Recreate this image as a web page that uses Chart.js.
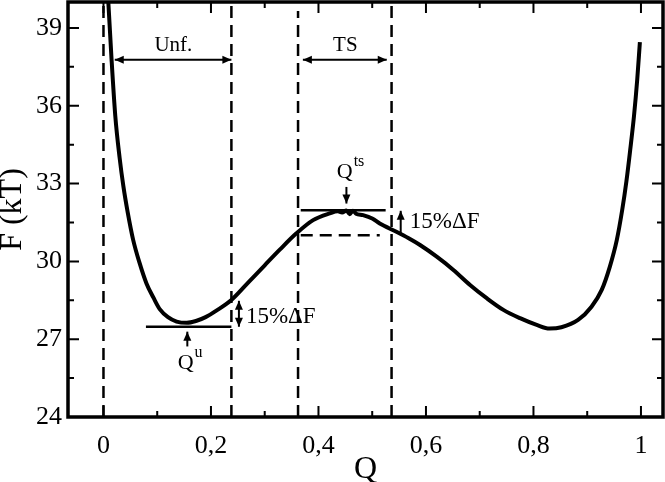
<!DOCTYPE html>
<html>
<head>
<meta charset="utf-8">
<script src="https://cdn.jsdelivr.net/npm/chart.js@4.4.0/dist/chart.umd.min.js"></script>
<style>
  html, body { margin: 0; padding: 0; background: #fff; }
  #wrap { width: 665px; height: 482px; }
</style>
</head>
<body>
<div id="wrap"><canvas id="chart"></canvas></div>
<script>
// ---- Data ----
const qVals = [0.006, 0.009, 0.015, 0.022, 0.030, 0.037, 0.045, 0.055, 0.067, 0.080, 0.093, 0.105, 0.120, 0.136,
  0.155, 0.172, 0.190, 0.210, 0.238, 0.270, 0.300, 0.328, 0.359, 0.390, 0.421, 0.436, 0.444, 0.452, 0.458,
  0.464, 0.470, 0.483, 0.500, 0.514, 0.545, 0.567, 0.589, 0.620, 0.651, 0.682, 0.713, 0.744, 0.775, 0.806,
  0.830, 0.852, 0.883, 0.908, 0.927, 0.942, 0.955, 0.965, 0.973, 0.980, 0.987, 0.993, 0.998];
const fVals = [41.2, 40.0, 37.8, 35.6, 34.0, 32.9, 31.9, 30.85, 29.95, 29.15, 28.6, 28.15, 27.85, 27.68,
  27.63, 27.7, 27.85, 28.1, 28.51, 29.2, 29.85, 30.45, 31.08, 31.59, 31.85, 31.93, 31.88, 31.96, 31.82,
  31.95, 31.84, 31.78, 31.65, 31.46, 31.14, 30.9, 30.63, 30.18, 29.67, 29.09, 28.58, 28.13, 27.81, 27.55,
  27.41, 27.46, 27.74, 28.25, 28.9, 29.79, 30.82, 31.97, 33.1, 34.3, 35.6, 37.0, 38.45];

const xTickVals = [0, 0.2, 0.4, 0.6, 0.8, 1];
const yTickVals = [24, 27, 30, 33, 36, 39];

// dashed vertical guides
const guideQ = [0, 0.238, 0.362, 0.536];
const guideTop = [40, 40, 39.65, 40];

// horizontal marks
const uLineQ = [0.079, 0.238], uLineF = 27.48;
const tsLineQ = [0.367, 0.525], tsLineF = 31.97;
const tsDashQ = [0.367, 0.514], tsDashF = 31.01;

// arrows: [q1, f1, q2, f2, heads]  heads: 1 = end only, 2 = both
const arrows = [
  [0.021, 37.77, 0.238, 37.77, 2],
  [0.371, 37.77, 0.527, 37.77, 2],
  [0.252, 28.48, 0.252, 27.48, 2],
  [0.553, 31.05, 0.553, 31.95, 1],
  [0.452, 32.87, 0.452, 32.23, 1],
  [0.156, 26.72, 0.156, 27.29, 1]
];

// labels: [text, sup, q, f, align, size]
const labels = [
  ['Unf.', '', 0.130, 38.13, 'center', 21],
  ['TS', '', 0.450, 38.13, 'center', 21],
  ['Q', 'ts', 0.434, 33.2, 'left', 22],
  ['Q', 'u', 0.138, 25.86, 'left', 22],
  ['15%\u0394F', '', 0.265, 27.63, 'left', 23],
  ['15%\u0394F', '', 0.570, 31.28, 'left', 23]
];

const SERIF = "'Liberation Serif', 'DejaVu Serif', serif";

function pts(qs, fs) {
  return qs.map((q, i) => ({ x: q, y: fs[i] }));
}

const datasets = [{
  data: pts(qVals, fVals),
  borderColor: '#000',
  borderWidth: 4,
  pointRadius: 0,
  cubicInterpolationMode: 'monotone'
}];

guideQ.forEach((q, i) => {
  datasets.push({
    data: [{ x: q, y: 24 }, { x: q, y: guideTop[i] }],
    borderColor: '#000', borderWidth: 2.5, borderDash: [12, 7], pointRadius: 0
  });
});
datasets.push({ data: pts(uLineQ, [uLineF, uLineF]), borderColor: '#000', borderWidth: 2.5, pointRadius: 0 });
datasets.push({ data: pts(tsLineQ, [tsLineF, tsLineF]), borderColor: '#000', borderWidth: 2.5, pointRadius: 0 });
datasets.push({ data: pts(tsDashQ, [tsDashF, tsDashF]), borderColor: '#000', borderWidth: 2.5, borderDash: [12, 7], pointRadius: 0 });

// ---- frame, inward ticks, arrows and labels ----
const decor = {
  id: 'decor',
  afterDraw(chart) {
    const ctx = chart.ctx;
    const a = chart.chartArea;
    const xs = chart.scales.x, ys = chart.scales.y;
    ctx.save();
    ctx.strokeStyle = '#000';
    ctx.fillStyle = '#000';

    // ticks on all four sides, pointing in
    ctx.lineWidth = 2;
    const major = 11, minor = 6;
    ctx.beginPath();
    xTickVals.forEach((v, i) => {
      const px = xs.getPixelForValue(v);
      ctx.moveTo(px, a.bottom); ctx.lineTo(px, a.bottom - major);
      ctx.moveTo(px, a.top); ctx.lineTo(px, a.top + major);
      if (i < xTickVals.length - 1) {
        const m = xs.getPixelForValue(v + 0.1);
        ctx.moveTo(m, a.bottom); ctx.lineTo(m, a.bottom - minor);
        ctx.moveTo(m, a.top); ctx.lineTo(m, a.top + minor);
      }
    });
    yTickVals.forEach(v => {
      const py = ys.getPixelForValue(v);
      ctx.moveTo(a.left, py); ctx.lineTo(a.left + major, py);
      ctx.moveTo(a.right, py); ctx.lineTo(a.right - major, py);
      const m = ys.getPixelForValue(v + 1.5);
      if (m > a.top + 2) {
        ctx.moveTo(a.left, m); ctx.lineTo(a.left + minor, m);
        ctx.moveTo(a.right, m); ctx.lineTo(a.right - minor, m);
      }
    });
    ctx.stroke();

    // frame
    ctx.lineWidth = 3.5;
    ctx.strokeRect(a.left, a.top, a.right - a.left, a.bottom - a.top);

    // arrows
    const head = (x, y, ang) => {
      ctx.beginPath();
      ctx.moveTo(x, y);
      ctx.lineTo(x - 9 * Math.cos(ang) + 4 * Math.sin(ang), y - 9 * Math.sin(ang) - 4 * Math.cos(ang));
      ctx.lineTo(x - 9 * Math.cos(ang) - 4 * Math.sin(ang), y - 9 * Math.sin(ang) + 4 * Math.cos(ang));
      ctx.closePath();
      ctx.fill();
    };
    ctx.lineWidth = 2;
    arrows.forEach(([q1, f1, q2, f2, h]) => {
      const x1 = xs.getPixelForValue(q1), y1 = ys.getPixelForValue(f1);
      const x2 = xs.getPixelForValue(q2), y2 = ys.getPixelForValue(f2);
      const ang = Math.atan2(y2 - y1, x2 - x1);
      ctx.beginPath();
      ctx.moveTo(x1, y1); ctx.lineTo(x2, y2);
      ctx.stroke();
      head(x2, y2, ang);
      if (h === 2) head(x1, y1, ang + Math.PI);
    });

    // labels
    ctx.textBaseline = 'alphabetic';
    labels.forEach(([t, sup, q, f, align, size]) => {
      const px = xs.getPixelForValue(q), py = ys.getPixelForValue(f);
      ctx.font = size + 'px ' + SERIF;
      ctx.textAlign = align;
      ctx.fillText(t, px, py);
      if (sup) {
        const w = ctx.measureText(t).width;
        ctx.font = '16px ' + SERIF;
        ctx.textAlign = 'left';
        ctx.fillText(sup, px + w + 1, py - 12);
      }
    });
    ctx.restore();
  }
};

new Chart(document.getElementById('chart'), {
  type: 'line',
  data: { datasets },
  options: {
    responsive: true,
    maintainAspectRatio: false,
    animation: false,
    layout: { padding: { top: 2, right: 2, left: 0, bottom: 0 } },
    plugins: { legend: { display: false }, tooltip: { enabled: false } },
    scales: {
      x: {
        type: 'linear',
        min: -0.066,
        max: 1.041,
        afterFit: s => { s.height = 65; s.paddingLeft = 0; s.paddingRight = 0; },
        grid: { display: false, drawTicks: false },
        border: { display: false },
        ticks: {
          stepSize: 0.2,
          includeBounds: false,
          padding: 14,
          color: '#000',
          font: { family: SERIF, size: 26 },
          callback: v => String(Math.round(v * 10) / 10).replace('.', ',')
        },
        title: {
          display: true, text: 'Q', color: '#000',
          font: { family: SERIF, size: 32, lineHeight: 0.8 },
          padding: 0
        }
      },
      y: {
        min: 24,
        max: 40,
        afterFit: s => { s.width = 68; s.paddingTop = 0; s.paddingBottom = 0; },
        grid: { display: false, drawTicks: false },
        border: { display: false },
        ticks: {
          stepSize: 3,
          includeBounds: false,
          padding: 6,
          color: '#000',
          font: { family: SERIF, size: 26 }
        },
        title: {
          display: true, text: 'F (kT)', color: '#000',
          font: { family: SERIF, size: 32, lineHeight: 0.8 },
          padding: 0
        }
      }
    }
  },
  plugins: [decor]
});
</script>
</body>
</html>
